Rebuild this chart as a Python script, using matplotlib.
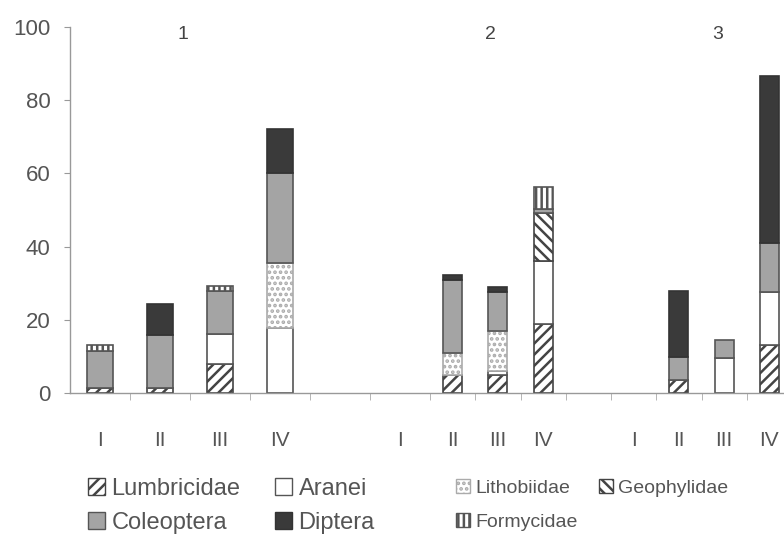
import numpy as np
import matplotlib.pyplot as plt
import matplotlib.patches as mpatches

# 14 category slots: three sites (1, 2, 3), plots I-IV, blank slot between sites
categories = ['I', 'II', 'III', 'IV', '', 'I', 'II', 'III', 'IV', '', 'I', 'II', 'III', 'IV']
site_labels = ['1', '2', '3']

lumbricidae = [1.5, 1.5, 8.0, 0, 0, 0, 4.9, 4.9, 18.8, 0, 0, 3.5, 0, 13.0]
aranei      = [0, 0, 8.0, 17.7, 0, 0, 0, 1.1, 17.2, 0, 0, 0, 9.5, 14.5]
lithobiidae = [0, 0, 0, 17.7, 0, 0, 6.0, 10.9, 0, 0, 0, 0, 0, 0]
geophylidae = [0, 0, 0, 0, 0, 0, 0, 0, 13.3, 0, 0, 0, 0, 0]
coleoptera  = [10.0, 14.3, 12.0, 24.8, 0, 0, 19.9, 10.6, 1.1, 0, 0, 6.3, 5.0, 13.5]
diptera     = [0, 8.4, 0, 12.0, 0, 0, 1.4, 1.4, 0, 0, 0, 18.0, 0, 45.5]
formycidae  = [1.5, 0, 1.2, 0, 0, 0, 0, 0, 6.0, 0, 0, 0, 0, 0]

plt.rcParams['font.family'] = ['Liberation Sans', 'DejaVu Sans']
plt.rcParams['hatch.linewidth'] = 1.8

# slot widths (the original is wider for the first site)
slot_w = np.array([60.0] * 6 + [45.25] * 8)
edges = 70 + np.concatenate([[0], np.cumsum(slot_w)])
x = (edges[:-1] + edges[1:]) / 2
bw = slot_w * 0.42

fig = plt.figure(figsize=(7.84, 5.37), dpi=100)
ax = fig.add_axes([70 / 784, 1 - 393 / 537, 714 / 784, 366 / 537])

series = [
    ('Lumbricidae', lumbricidae, dict(facecolor='white', edgecolor='#444444', hatch='///')),
    ('Aranei', aranei, dict(facecolor='white', edgecolor='#555555')),
    ('Lithobiidae', lithobiidae, dict(facecolor='white', edgecolor='#ababab', hatch='...')),
    ('Geophylidae', geophylidae, dict(facecolor='white', edgecolor='#444444', hatch='\\\\\\')),
    ('Coleoptera', coleoptera, dict(facecolor='#a4a4a4', edgecolor='#555555')),
    ('Diptera', diptera, dict(facecolor='#3a3a3a', edgecolor='#333333')),
    ('Formycidae', formycidae, dict(facecolor='white', edgecolor='#555555', hatch='|||')),
]

bottom = np.zeros(len(categories))
handles = {}
for name, vals, style in series:
    vals = np.array(vals, dtype=float)
    bars = ax.bar(x, vals, bw, bottom=bottom, linewidth=1.2, **style)
    for b, v in zip(bars, vals):
        if v == 0:
            b.set_visible(False)
    handles[name] = mpatches.Patch(linewidth=1.0, **style)
    bottom += vals

ax.set_xlim(70, 784)
ax.set_ylim(0, 100)
ax.set_yticks(range(0, 101, 20))
ax.set_xticks(x)
ax.set_xticklabels(categories)
ax.set_xticks(edges[1:-1], minor=True)

for s in ['top', 'right']:
    ax.spines[s].set_visible(False)
for s in ['left', 'bottom']:
    ax.spines[s].set_color('#999999')
    ax.spines[s].set_linewidth(1.0)

ax.tick_params(axis='y', colors='#999999', length=4, labelsize=16, labelcolor='#555555', pad=10)
ax.tick_params(axis='x', which='major', length=0, pad=27, labelsize=15, labelcolor='#555555')
ax.tick_params(axis='x', which='minor', length=5, color='#aaaaaa')

# site numbers above the groups
site_x = [183, 490, 718]
for sx, lab in zip(site_x, site_labels):
    ax.text(sx, 98, lab, ha='center', va='center', fontsize=14, color='#444444')

# legend entries, placed one by one like the original
legend_items = [
    ('Lumbricidae', 88, 478, 17),
    ('Aranei', 275, 478, 17),
    ('Lithobiidae', 456, 479, 14),
    ('Geophylidae', 599, 479, 14),
    ('Coleoptera', 88, 512, 17),
    ('Diptera', 275, 512, 17),
    ('Formycidae', 456, 513, 14),
]
for name, px, py, fs in legend_items:
    leg = fig.legend([handles[name]], [name], loc='upper left',
                     bbox_to_anchor=(px / 784, 1 - py / 537), frameon=False,
                     handlelength=0.7, handleheight=0.7, handletextpad=0.3,
                     borderaxespad=0, borderpad=0, prop={'size': fs})
    for t in leg.get_texts():
        t.set_color('#555555')

fig.savefig('out.png', dpi=100)
